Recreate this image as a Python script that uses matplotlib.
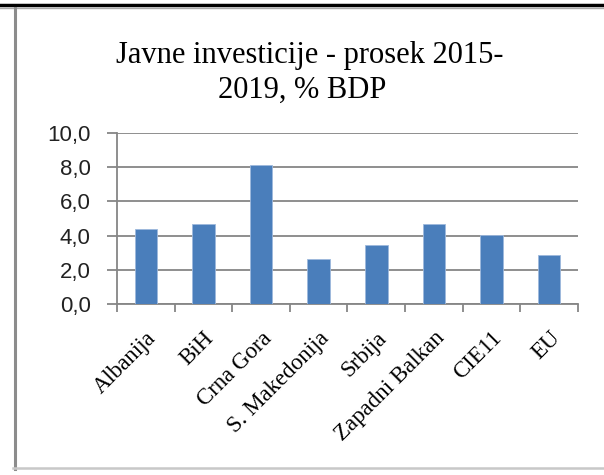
import matplotlib
matplotlib.use("Agg")
import matplotlib.pyplot as plt
from matplotlib.lines import Line2D
from matplotlib.ticker import FuncFormatter
from matplotlib.transforms import ScaledTranslation

categories = ["Albanija", "BiH", "Crna Gora", "S. Makedonija", "Srbija",
              "Zapadni Balkan", "CIE11", "EU"]
values = [4.4, 4.65, 8.1, 2.65, 3.45, 4.65, 4.05, 2.85]
title_lines = ["Javne investicije - prosek 2015-", "2019, % BDP"]

W, H = 604, 475
fig = plt.figure(figsize=(W / 100, H / 100), dpi=100)
ax = fig.add_axes([117 / W, 1 - 304 / H, (578 - 117) / W, (304 - 133) / H])

grey = "#868686"
x = list(range(len(categories)))
ax.bar(x, values, width=0.39, color="#4A7EBB", edgecolor="#9DB9DD", linewidth=0.6, zorder=3)

ax.set_xlim(-0.5, len(categories) - 0.5)
ax.set_ylim(0, 10)
ax.set_yticks([0, 2, 4, 6, 8, 10])
ax.yaxis.set_major_formatter(FuncFormatter(lambda v, p: f"{v:.1f}".replace(".", ",")))
ax.grid(axis="y", color=grey, linewidth=1.3, zorder=0)

# labels on the categories, tick marks between them
ax.set_xticks(x)
ax.set_xticklabels(categories)
ax.set_xticks([i - 0.5 for i in range(len(categories) + 1)], minor=True)
ax.tick_params(axis="x", which="major", length=0, pad=17, labelsize=16.5,
               labelrotation=45, labelfontfamily="Liberation Serif")
ax.tick_params(axis="x", which="minor", length=6, color=grey, width=1.3, direction="out")
ax.tick_params(axis="y", length=7, color=grey, width=1.3, pad=12, labelsize=16,
               labelfontfamily="Liberation Sans", labelcolor="#222222")
shift = ScaledTranslation(0, 0, fig.dpi_scale_trans)
for lab in ax.get_xticklabels():
    lab.set_ha("right")
    lab.set_va("top")
    lab.set_rotation_mode("anchor")
    lab.set_transform(lab.get_transform() + shift)

for s in ["top", "right"]:
    ax.spines[s].set_visible(False)
for s in ["left", "bottom"]:
    ax.spines[s].set_color(grey)
    ax.spines[s].set_linewidth(1.3)

fig.text(310 / W, 1 - 63 / H, title_lines[0], ha="center", va="baseline",
         family="Liberation Serif", fontsize=22)
fig.text(302 / W, 1 - 98 / H, title_lines[1], ha="center", va="baseline",
         family="Liberation Serif", fontsize=22)

# frame lines around the picture
fig.add_artist(Line2D([0, 1], [1 - 5 / H, 1 - 5 / H], color="black", linewidth=2.5))
fig.add_artist(Line2D([0, 1], [1 - 7.5 / H, 1 - 7.5 / H], color="#aaaaaa", linewidth=1))
fig.add_artist(Line2D([14.5 / W, 14.5 / W], [1 - 8 / H, 1 - 469 / H], color="#8c8c8c", linewidth=2.2))
fig.add_artist(Line2D([13 / W, 1], [1 - 468 / H, 1 - 468 / H], color="#c8c8c8", linewidth=1.8))

fig.savefig("out.png", dpi=100)
